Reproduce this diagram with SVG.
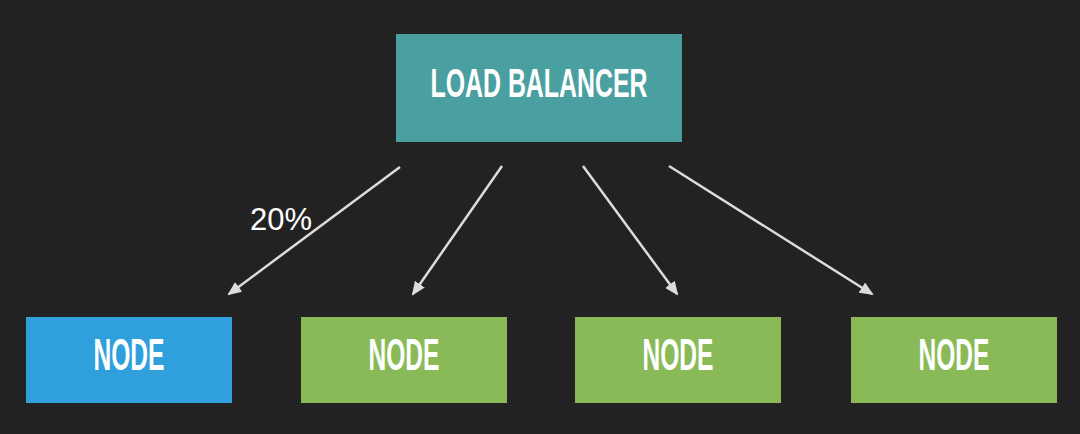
<svg xmlns="http://www.w3.org/2000/svg" width="1080" height="434" viewBox="0 0 1080 434">
<defs>
<style>
.lbl{font-family:"Liberation Sans",Arial,sans-serif;font-weight:bold;fill:#ffffff;text-anchor:middle}
.conn line{stroke:#dcdcdc;stroke-width:2.5;marker-end:url(#ah)}
</style>
<marker id="ah" viewBox="0 0 14 12" refX="12" refY="6" markerWidth="14" markerHeight="12" orient="auto" markerUnits="userSpaceOnUse">
<path d="M0,0 L14,6 L0,12 z" fill="#dcdcdc"/>
</marker>
</defs>
<rect width="1080" height="434" fill="#222222"/>
<g id="lb">
<rect x="396" y="34" width="286" height="108" fill="#4a9fa0"/>
<text class="lbl" x="539" y="97" font-size="40" textLength="217" lengthAdjust="spacingAndGlyphs">LOAD BALANCER</text>
</g>
<g id="node1">
<rect x="26" y="317" width="206" height="86" fill="#2fa0dc"/>
<text class="lbl" x="129" y="370" font-size="44" textLength="71" lengthAdjust="spacingAndGlyphs">NODE</text>
</g>
<g id="node2">
<rect x="301" y="317" width="206" height="86" fill="#8aba58"/>
<text class="lbl" x="404" y="370" font-size="44" textLength="71" lengthAdjust="spacingAndGlyphs">NODE</text>
</g>
<g id="node3">
<rect x="575" y="317" width="206" height="86" fill="#8aba58"/>
<text class="lbl" x="678" y="370" font-size="44" textLength="71" lengthAdjust="spacingAndGlyphs">NODE</text>
</g>
<g id="node4">
<rect x="851" y="317" width="206" height="86" fill="#8aba58"/>
<text class="lbl" x="954" y="370" font-size="44" textLength="71" lengthAdjust="spacingAndGlyphs">NODE</text>
</g>
<g id="connectors" class="conn">
<line x1="400" y1="167" x2="229" y2="294"/>
<line x1="502" y1="166" x2="413" y2="294"/>
<line x1="583" y1="166" x2="677" y2="294"/>
<line x1="669" y1="166" x2="872" y2="294"/>
</g>
<text x="250" y="230" font-family="'Liberation Sans',Arial,sans-serif" font-size="31" fill="#ffffff">20%</text>
</svg>
